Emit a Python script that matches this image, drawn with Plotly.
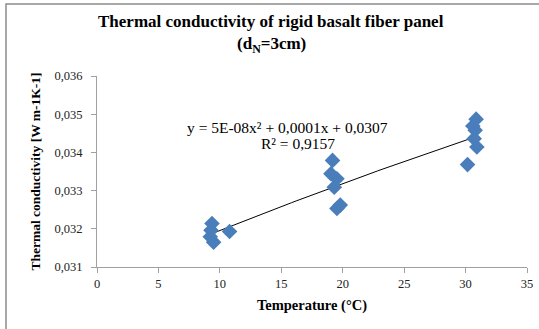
import numpy as np
import plotly.graph_objects as go

temperature = [9.36, 9.28, 9.22, 9.49, 10.79,
               19.17, 19.04, 19.53, 19.31, 19.80, 19.53,
               30.86, 30.59, 30.78, 30.70, 30.92, 30.16]
conductivity = [0.03214, 0.03196, 0.03179, 0.03165, 0.03193,
                0.03379, 0.03344, 0.03331, 0.03309, 0.03262, 0.03253,
                0.03487, 0.03469, 0.03458, 0.03436, 0.03414, 0.03368]
x_ticks = [0, 5, 10, 15, 20, 25, 30, 35]
y_ticks = [0.031, 0.032, 0.033, 0.034, 0.035, 0.036]

coef = np.polyfit(temperature, conductivity, 2)
xt = np.linspace(min(temperature), max(temperature), 60)
yt = np.polyval(coef, xt)

serif = "Liberation Serif"

L, R, T, B = 97, 12, 76, 62
W, H = 539, 329
PW, PH = W - L - R, H - T - B

def px_x(px):
    return (px - L) / PW
def px_y(py):
    return (H - B - py) / PH

fig = go.Figure()
fig.add_trace(go.Scatter(x=xt, y=yt, mode="lines",
                         line=dict(color="#000000", width=1), showlegend=False,
                         hoverinfo="skip"))
fig.add_trace(go.Scatter(x=temperature, y=conductivity, mode="markers",
                         marker=dict(symbol="diamond", size=12, color="#4A7EBB",
                                     line=dict(width=0)),
                         showlegend=False))

def ann(text, px, py, size, bold=False):
    return dict(text=f"<b>{text}</b>" if bold else text,
                x=px_x(px), y=px_y(py), xref="paper", yref="paper",
                xanchor="center", yanchor="middle", showarrow=False,
                font=dict(size=size, family=serif, color="#000000"))

fig.update_layout(
    width=W, height=H,
    margin=dict(l=L, r=R, t=T, b=B, autoexpand=False),
    paper_bgcolor="white", plot_bgcolor="white",
    separators=",.",
    font=dict(family=serif, color="#000000"),
    xaxis=dict(range=[0, 35], tickvals=x_ticks, showgrid=False, zeroline=False,
               showline=True, linecolor="#A0A0A0", linewidth=1,
               ticks="outside", ticklen=5, tickcolor="#A0A0A0", automargin=False,
               tickfont=dict(size=12.5, family=serif, color="#222"),
               title=dict(text="<b>Temperature (°C)</b>", font=dict(size=14.5, family=serif),
                          standoff=9)),
    yaxis=dict(range=[0.031, 0.036], tickvals=y_ticks, tickformat=".3f",
               showgrid=False, zeroline=False, automargin=False,
               showline=True, linecolor="#A0A0A0", linewidth=1,
               ticks="outside", ticklen=5, tickcolor="#A0A0A0",
               ticklabelstandoff=6,
               tickfont=dict(size=12.5, family=serif, color="#222"),
               title=dict(text="<b>Thermal conductivity [W m-1K-1]</b>",
                          font=dict(size=13.5, family=serif), standoff=10)),
    shapes=[dict(type="rect", xref="paper", yref="paper",
                 x0=px_x(6), x1=px_x(560), y0=px_y(345), y1=px_y(4),
                 line=dict(color="#8C8C8C", width=1.5), fillcolor="rgba(0,0,0,0)",
                 layer="below")],
    annotations=[
        ann("Thermal conductivity of rigid basalt fiber panel", 271, 21, 17, bold=True),
        ann("(d<sub>N</sub>=3cm)", 271, 45, 17, bold=True),
        ann("y = 5E-08x² + 0,0001x + 0,0307", 287, 127, 15.5),
        ann("R² = 0,9157", 298, 143, 15.5),
    ],
)

fig.write_html("out.html")
